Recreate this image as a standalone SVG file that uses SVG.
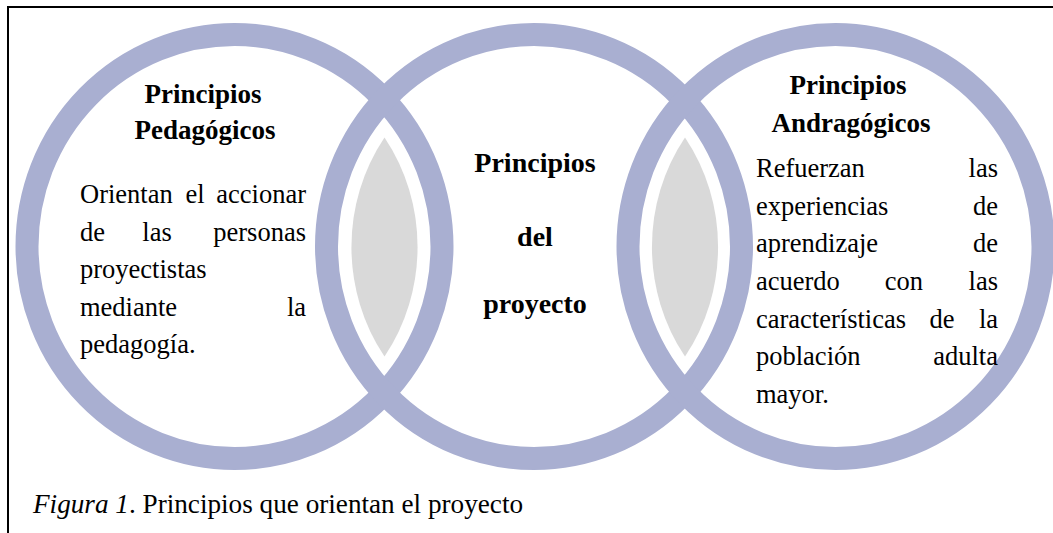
<svg xmlns="http://www.w3.org/2000/svg" width="1053" height="533" viewBox="0 0 1053 533">
<style>
.ring{fill:none;stroke:#A9AFD1;stroke-width:23}
.lens{fill:#D9D9D9;stroke:none}
.t{font-family:"Liberation Serif","Times New Roman",serif;fill:#000}
.h{font-weight:bold;font-size:27px}
.hm{font-weight:bold;font-size:28px}
.b{font-size:26.5px}
.cap{font-size:27.2px}
.m{text-anchor:middle}
.e{text-anchor:end}
</style>
<rect x="0" y="0" width="1053" height="533" fill="#fff"/>
<path d="M8 533 V7 H1053" fill="none" stroke="#000" stroke-width="2"/>
<g id="rings">
<ellipse id="ring-pedagogicos" class="ring" cx="234.5" cy="246.5" rx="207.5" ry="212"/>
<ellipse id="ring-proyecto" class="ring" cx="534" cy="246.5" rx="207.5" ry="212"/>
<ellipse id="ring-andragogicos" class="ring" cx="835.5" cy="246.5" rx="207.5" ry="212"/>
</g>
<g id="lenses">
<path class="lens" d="M384.5 137.5 A183 191 0 0 0 384.5 356.5 A183 191 0 0 0 384.5 137.5 Z"/>
<path class="lens" d="M685 137.5 A183 191 0 0 0 685 356.5 A183 191 0 0 0 685 137.5 Z"/>
</g>
<g id="pedagogicos" class="t">
<text class="h m" x="203" y="103">Principios</text>
<text class="h m" x="205" y="139">Pedagógicos</text>
<g class="b">
<text x="80" y="203">Orientan</text><text class="m" x="195" y="203">el</text><text class="e" x="306" y="203">accionar</text>
<text x="80" y="240.5">de</text><text class="m" x="157" y="240.5">las</text><text class="e" x="306" y="240.5">personas</text>
<text x="80" y="278">proyectistas</text>
<text x="80" y="315.5">mediante</text><text class="e" x="306" y="315.5">la</text>
<text x="80" y="353">pedagogía.</text>
</g>
</g>
<g id="proyecto" class="t">
<text class="hm m" x="535" y="172">Principios</text>
<text class="hm m" x="535" y="246">del</text>
<text class="hm m" x="535" y="313">proyecto</text>
</g>
<g id="andragogicos" class="t">
<text class="h m" x="848" y="94">Principios</text>
<text class="h m" x="851" y="132">Andragógicos</text>
<g class="b">
<text x="756" y="177">Refuerzan</text><text class="e" x="998" y="177">las</text>
<text x="756" y="214.7">experiencias</text><text class="e" x="998" y="214.7">de</text>
<text x="756" y="252.3">aprendizaje</text><text class="e" x="998" y="252.3">de</text>
<text x="756" y="290">acuerdo</text><text class="m" x="904" y="290">con</text><text class="e" x="998" y="290">las</text>
<text x="756" y="327.7">características</text><text class="m" x="942" y="327.7">de</text><text class="e" x="998" y="327.7">la</text>
<text x="756" y="365.3">población</text><text class="e" x="998" y="365.3">adulta</text>
<text x="756" y="403">mayor.</text>
</g>
</g>
<g id="caption" class="t">
<text class="cap" x="33" y="513"><tspan font-style="italic">Figura 1</tspan>. Principios que orientan el proyecto</text>
</g>
</svg>
